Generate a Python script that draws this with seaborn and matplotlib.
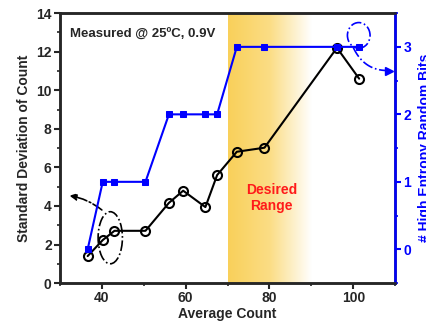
import numpy as np
import pandas as pd
import matplotlib
matplotlib.use("Agg")
import matplotlib.pyplot as plt
from matplotlib.patches import Ellipse
from matplotlib.ticker import MultipleLocator
from matplotlib.colors import LinearSegmentedColormap
import seaborn as sns

# data
avg_count = [36.6, 40.2, 43.0, 50.4, 56.0, 59.4, 64.7, 67.5, 72.2, 78.8, 96.1, 101.4]
std_count = [1.40, 2.23, 2.71, 2.71, 4.16, 4.79, 3.94, 5.60, 6.81, 7.02, 12.2, 10.6]
random_bits = [0, 1, 1, 1, 2, 2, 2, 2, 3, 3, 3, 3]

df = pd.DataFrame({"avg": avg_count, "std": std_count, "bits": random_bits})

sns.set_style("ticks")
plt.rcParams["font.family"] = ["Liberation Sans", "DejaVu Sans"]
plt.rcParams["font.weight"] = "bold"

fig = plt.figure(figsize=(4.27, 3.28), dpi=100)
ax = fig.add_axes([0.1405, 0.137, 0.785, 0.823])
ax2 = ax.twinx()

# desired range gradient band
grad = np.linspace(0, 1, 256).reshape(1, -1)
cmap = LinearSegmentedColormap.from_list("band", ["#F9D05A", "#FBDD85", "#FFFFFF"])
ax.imshow(grad, cmap=cmap, aspect="auto", extent=[70, 90, 0, 14], zorder=0)
ax.text(80.5, 4.4, "Desired\nRange", color="#FF1A1A", fontsize=10, fontweight="bold",
        ha="center", va="center", linespacing=1.2)

sns.lineplot(data=df, x="avg", y="std", ax=ax, color="black", marker="o", markersize=6.5,
             mfc="none", mec="black", mew=1.5, lw=1.5, sort=False, zorder=3)
sns.lineplot(data=df, x="avg", y="bits", ax=ax2, color="#0000FF", marker="s", markersize=5,
             mec="#0000FF", lw=1.5, sort=False, zorder=3)

ax.set_xlim(30, 110)
ax.set_ylim(0, 14)
ax2.set_ylim(-0.5, 3.5)
ax.xaxis.set_major_locator(MultipleLocator(20))
ax.xaxis.set_minor_locator(MultipleLocator(10))
ax.yaxis.set_major_locator(MultipleLocator(2))
ax.yaxis.set_minor_locator(MultipleLocator(1))
ax2.yaxis.set_major_locator(MultipleLocator(1))
ax2.yaxis.set_minor_locator(MultipleLocator(0.5))

for a in (ax, ax2):
    for s in a.spines.values():
        s.set_linewidth(1.8)
        s.set_visible(True)
ax2.spines["right"].set_color("#0000FF")
ax.tick_params(which="major", length=4, width=1.5, labelsize=10, pad=2)
ax.tick_params(which="minor", length=2.5, width=1.2)
ax2.tick_params(which="major", length=4, width=1.5, labelsize=10, colors="#0000FF", pad=2)
ax2.tick_params(which="minor", length=2.5, width=1.2, colors="#0000FF")
for lab in ax.get_xticklabels() + ax.get_yticklabels() + ax2.get_yticklabels():
    lab.set_fontweight("bold")

ax.set_xlabel("Average Count", fontsize=10, fontweight="bold", labelpad=1)
ax.set_ylabel("Standard Deviation of Count", fontsize=10, fontweight="bold", labelpad=4)
ax2.set_ylabel("# High Entropy Random Bits", fontsize=10, fontweight="bold",
               color="#0000FF", labelpad=5)

ax.text(32.5, 12.9, "Measured @ 25ºC, 0.9V", fontsize=9.5, fontweight="bold",
        ha="left", va="center")

# dash-dot callouts
ax.add_patch(Ellipse((42, 2.35), 5.8, 2.7, fill=False, ls="-.", lw=1.2, ec="black", zorder=4))
ax.annotate("", xy=(31.6, 4.55), xytext=(40.5, 3.7),
            arrowprops=dict(arrowstyle="-|>", ls="-.", lw=1.2, color="black",
                            connectionstyle="arc3,rad=0.15", mutation_scale=10))
ax2.add_patch(Ellipse((101.3, 3.17), 5.4, 0.38, fill=False, ls="-.", lw=1.2, ec="#0000FF", zorder=4))

# right callout arrow: curved dash-dot shaft (quadratic curve) + triangular head
p0 = np.array([100.0, 2.99])
p1 = np.array([102.5, 2.66])
p2 = np.array([107.8, 2.65])
t = np.linspace(0, 1, 40)[:, None]
curve = (1 - t) ** 2 * p0 + 2 * (1 - t) * t * p1 + t ** 2 * p2
ax2.plot(curve[:, 0], curve[:, 1], color="#0000FF", ls="-.", lw=1.2, zorder=6, clip_on=False)
ax2.plot([108.6], [2.645], marker=">", ms=6, color="#0000FF", mec="#0000FF", zorder=6,
         clip_on=False)

fig.savefig("out.png", dpi=100)
